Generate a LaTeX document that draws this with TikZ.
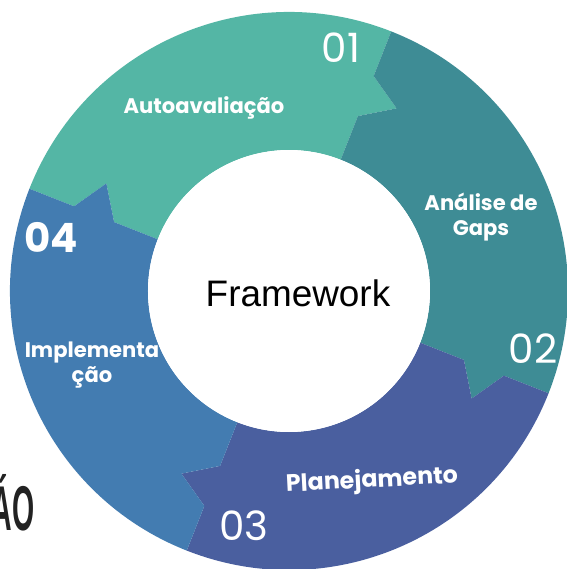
\documentclass[tikz,border=0pt]{standalone}
\usepackage{fontspec}
\setmainfont{Liberation Sans}
\newfontfamily\poppins{Poppins}
\definecolor{segA}{RGB}{84,182,165}
\definecolor{segB}{RGB}{62,140,149}
\definecolor{segC}{RGB}{74,95,159}
\definecolor{segD}{RGB}{67,124,177}
\definecolor{titel}{RGB}{34,34,34}
\begin{document}
\begin{tikzpicture}[x=0.02cm, y=0.02cm,
    steplabel/.style={text=white, align=center, inner sep=0pt, font=\poppins\bfseries\fontsize{12}{14.5}\selectfont},
    stepnum/.style={text=white, inner sep=0pt, font=\poppins\fontsize{23}{26}\selectfont}
]
    \useasboundingbox (-289,-278) rectangle (278,291);

    % Segmente
    \foreach \a/\col in {158.5/segA, 68.5/segB, -21.5/segC, -111.5/segD} {
        \pgfmathsetmacro{\b}{\a-90}
        \fill[\col] (\a:279) arc[start angle=\a, end angle=\b, radius=279]
            -- (\b:231) -- (\b-9:212) -- (\b:188) -- (\b:141)
            arc[start angle=\b, end angle=\a, radius=141]
            -- (\a:188) -- (\a-9:212) -- (\a:231) -- cycle;
    }

    % Nummern
    \node[stepnum] (num01) at (52,243) {01};
    \node[stepnum] (num02) at (244,-58) {02};
    \node[stepnum] (num03) at (-45,-235) {03};
    \node[stepnum, font=\poppins\bfseries\fontsize{23}{26}\selectfont] (num04) at (-238,54) {04};

    % Schritte
    \node[steplabel] (auto) at (-85,183) {Autoavaliação};
    \node[steplabel] (gaps) at (192,74) {Análise de\\Gaps};
    \node[steplabel, rotate=3, font=\poppins\bfseries\fontsize{13.5}{16}\selectfont] (plan) at (83,-190) {Planejamento};
    \node[steplabel] (impl) at (-197,-74) {Implementa\\ção};

    % Mitte
    \fill[white] (0,0) circle[radius=141];
    \node[font=\fontsize{21}{25}\selectfont] (frame) at (9,-2) {Framework};

    % Titel (abgeschnitten)
    \node[anchor=base east, text=titel, inner sep=0pt] (titulo) at (-254,-239)
        {\scalebox{0.45}[1]{\fontsize{36}{40}\selectfont\bfseries ÁO}};
\end{tikzpicture}
\end{document}
